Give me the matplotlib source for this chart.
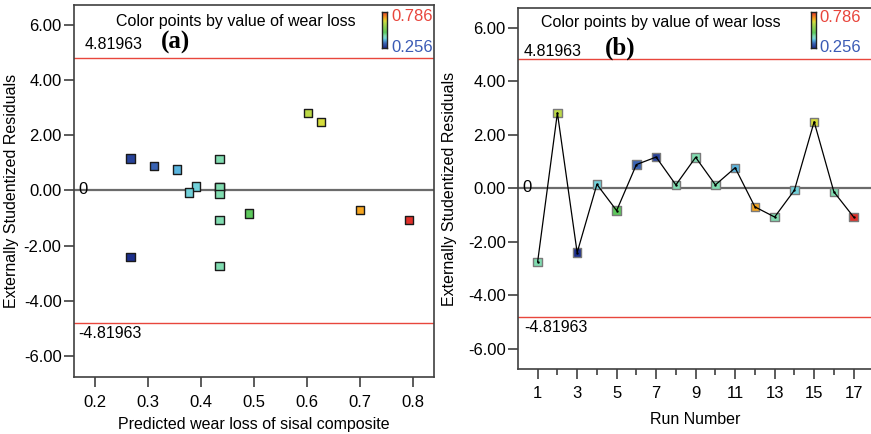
import numpy as np
import matplotlib
matplotlib.use("Agg")
import matplotlib.pyplot as plt
from matplotlib.colors import LinearSegmentedColormap, Normalize
from matplotlib.ticker import FixedLocator

plt.rcParams['font.family'] = ['Liberation Sans', 'DejaVu Sans']

# Data (17 runs)
runs = np.arange(1, 18)
predicted = [0.435, 0.602, 0.267, 0.391, 0.491, 0.311, 0.267, 0.435, 0.435,
             0.435, 0.355, 0.700, 0.435, 0.377, 0.626, 0.435, 0.793]
residuals = [-2.75, 2.81, -2.41, 0.14, -0.84, 0.88, 1.16, 0.12, 1.15,
             0.12, 0.76, -0.70, -1.08, -0.08, 2.48, -0.14, -1.08]
wear_loss = [0.43, 0.62, 0.256, 0.39, 0.48, 0.32, 0.28, 0.43, 0.43,
             0.43, 0.37, 0.69, 0.43, 0.39, 0.64, 0.43, 0.786]
limit = 4.81963
wl_min, wl_max = 0.256, 0.786

cmap = LinearSegmentedColormap.from_list("de", [
    (0.00, "#1c2f8c"), (0.12, "#3a64b4"), (0.22, "#5ab8e0"), (0.26, "#78d8d8"),
    (0.33, "#80dcb0"), (0.42, "#5cc85c"), (0.68, "#b8d848"), (0.73, "#d8dc3a"),
    (0.82, "#f5a520"), (1.00, "#e0302a")])
norm = Normalize(wl_min, wl_max)
colors = [cmap(norm(v)) for v in wear_loss]

fig = plt.figure(figsize=(8.71, 4.34), dpi=100)
W, H = 871, 434
ax1 = fig.add_axes([74 / W, 1 - 377 / H, 360 / W, 372 / H])
ax2 = fig.add_axes([518.3 / W, 1 - 369.3 / H, 353.5 / W, 361.3 / H])

spine_c = "#404040"
for ax in (ax1, ax2):
    for s in ax.spines.values():
        s.set_color(spine_c)
        s.set_linewidth(1.2)
    ax.axhline(0, color="#6b6b6b", lw=1.6, zorder=1)
    ax.axhline(limit, color="#e8463c", lw=1.0, zorder=1)
    ax.axhline(-limit, color="#e8463c", lw=1.0, zorder=1)
    ax.set_ylim(-6.77, 6.73)
    ax.set_yticks([-6, -4, -2, 0, 2, 4, 6])
    ax.set_yticklabels([f"{v:.2f}" for v in [-6, -4, -2, 0, 2, 4, 6]])
    ax.tick_params(axis="both", direction="out", length=7, width=1.2,
                   color=spine_c, labelsize=12, pad=2)
    ax.set_ylabel("Externally Studentized Residuals", fontsize=11.5)

ax1.yaxis.set_label_coords(-0.153, 0.5)
ax2.yaxis.set_label_coords(-0.173, 0.5)

# (a) residuals vs predicted
ax1.scatter(predicted, residuals, c=colors, marker="s", s=36,
            edgecolors="#1a1a1a", linewidths=1.0, zorder=3)
ax1.set_xlim(0.16, 0.84)
ax1.set_xticks([0.2, 0.3, 0.4, 0.5, 0.6, 0.7, 0.8])
ax1.tick_params(axis="x", pad=6)
ax1.set_xlabel("Predicted wear loss of sisal composite", fontsize=11.5, labelpad=5)
ax1.text(0.18, 5.29, "4.81963", fontsize=11.5, ha="left", va="center")
ax1.text(0.1675, -5.18, "-4.81963", fontsize=11.5, ha="left", va="center")
ax1.text(0.177, 0.02, "0", fontsize=12, ha="center", va="center")
ax1.text(0.351, 5.36, "(a)", fontsize=18, fontweight="bold",
         family="Liberation Serif", ha="center", va="center")
ax1.text(0.466, 6.12, "Color points by value of wear loss", fontsize=11.5,
         ha="center", va="center")

# (b) residuals vs run number
ax2.plot(runs, residuals, color="black", lw=0.9, zorder=4)
ax2.scatter(runs, residuals, c=colors, marker="s", s=36,
            edgecolors="#7a7a7a", linewidths=1.0, zorder=3)
ax2.plot(runs, residuals, ls="none", marker=".", ms=1.5, color="black", zorder=5)
ax2.set_xlim(0.02, 17.92)
ax2.xaxis.set_major_locator(FixedLocator(list(range(1, 18, 2))))
ax2.xaxis.set_minor_locator(FixedLocator(list(range(2, 18, 2))))
ax2.tick_params(axis="x", which="minor", direction="out", length=4, width=1.2,
                color=spine_c)
ax2.tick_params(axis="x", pad=5)
ax2.set_xlabel("Run Number", fontsize=11.5, labelpad=8)
ax2.text(0.31, 5.10, "4.81963", fontsize=11.5, ha="left", va="center")
ax2.text(0.31, -5.2, "-4.81963", fontsize=11.5, ha="left", va="center")
ax2.text(0.46, 0.02, "0", fontsize=12, ha="center", va="center")
ax2.text(5.17, 5.21, "(b)", fontsize=18, fontweight="bold",
         family="Liberation Serif", ha="center", va="center")
ax2.text(7.25, 6.19, "Color points by value of wear loss", fontsize=11.5,
         ha="center", va="center")

# small colour scale legends
gradient = np.linspace(0, 1, 100).reshape(-1, 1)
for ax, bx, lx, ly_top, ly_bot, by, bh in [
        (ax1, 0.856, 0.881, 0.968, 0.887, 0.884, 0.097),
        (ax2, 0.828, 0.8515, 0.975, 0.892, 0.889, 0.0996)]:
    cax = ax.inset_axes([bx, by, 0.014, bh])
    cax.imshow(gradient, aspect="auto", cmap=cmap, origin="lower")
    cax.set_xticks([])
    cax.set_yticks([])
    for s in cax.spines.values():
        s.set_color("#222222")
        s.set_linewidth(1.0)
    ax.text(lx, ly_top, f"{wl_max:.3f}", transform=ax.transAxes, fontsize=12,
            color="#e8453c", ha="left", va="center")
    ax.text(lx, ly_bot, f"{wl_min:.3f}", transform=ax.transAxes, fontsize=12,
            color="#3b5bb5", ha="left", va="center")

fig.savefig("out.png", dpi=100)
